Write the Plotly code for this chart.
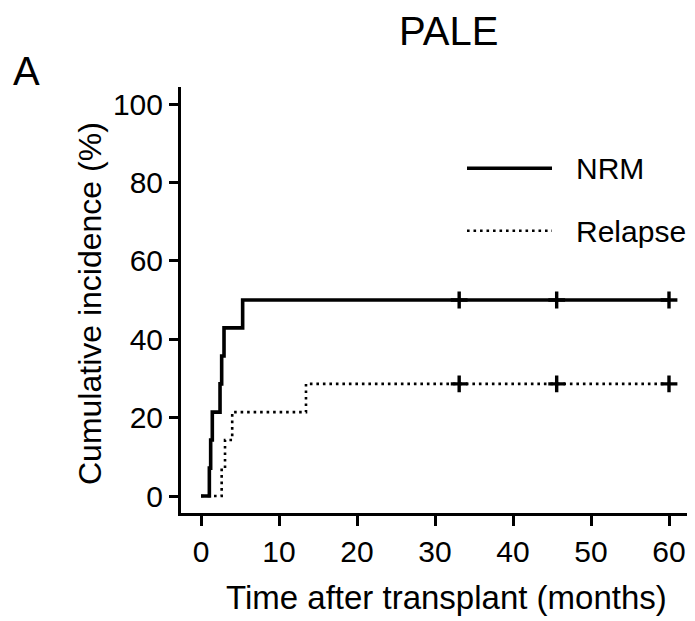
import plotly.graph_objects as go

# ---- data ----
nrm_time = [0, 1.07, 1.24, 1.45, 2.44, 2.65, 2.95, 5.34, 60]
nrm_ci = [0, 7.1, 14.3, 21.4, 28.6, 35.7, 42.9, 50.0, 50.0]
nrm_cens_time = [33.1, 45.6, 60]
nrm_cens_ci = [50.0, 50.0, 50.0]

rel_time = [0, 2.65, 3.08, 4.0, 13.46, 60]
rel_ci = [0, 7.1, 14.3, 21.4, 28.6, 28.6]
rel_cens_time = [33.1, 45.6, 60]
rel_cens_ci = [28.6, 28.6, 28.6]

x_ticks = [0, 10, 20, 30, 40, 50, 60]
y_ticks = [0, 20, 40, 60, 80, 100]

FONT = "Liberation Sans, Arial, sans-serif"
SOLID_W = 3.6
DOT_W = 2.6
DOT_DASH = "2.6px,3.9px"

fig = go.Figure()
fig.add_trace(go.Scatter(x=nrm_time, y=nrm_ci, mode="lines", line_shape="hv",
                         line=dict(color="black", width=SOLID_W), showlegend=False))
fig.add_trace(go.Scatter(x=rel_time, y=rel_ci, mode="lines", line_shape="hv",
                         line=dict(color="black", width=DOT_W, dash=DOT_DASH), showlegend=False))
fig.add_trace(go.Scatter(x=nrm_cens_time, y=nrm_cens_ci, mode="markers",
                         marker=dict(symbol="cross-thin", size=12, line=dict(color="black", width=3.4)),
                         showlegend=False))
fig.add_trace(go.Scatter(x=rel_cens_time, y=rel_cens_ci, mode="markers",
                         marker=dict(symbol="cross-thin", size=12, line=dict(color="black", width=3.4)),
                         showlegend=False))

# page body has an 8px default margin: build the figure 8px smaller and shift targets
OFF = 8
WIN_W, WIN_H = 695, 621
W, H = WIN_W - OFF, WIN_H - OFF
# plot-area edges in window pixels (from the reference)
AX_L, AX_R, AX_T, AX_B = 181, 687, 87, 513
L = AX_L - OFF
R = W - (AX_R - OFF)
T = AX_T - OFF
B = H - (AX_B - OFF)
pw = W - L - R
ph = H - T - B

def px(xpix):
    return (xpix - OFF - L) / pw

def py(ypix):
    return (H - B - (ypix - OFF)) / ph

shapes = [
    dict(type="line", xref="paper", yref="paper", x0=px(467), x1=px(552), y0=py(168.3), y1=py(168.3),
         line=dict(color="black", width=SOLID_W)),
    dict(type="line", xref="paper", yref="paper", x0=px(467), x1=px(552), y0=py(230.7), y1=py(230.7),
         line=dict(color="black", width=DOT_W, dash=DOT_DASH)),
]

annotations = [
    dict(text="NRM", xref="paper", yref="paper", x=px(574), y=py(168.5), xanchor="left", yanchor="middle",
         showarrow=False, font=dict(size=30, color="black", family=FONT)),
    dict(text="Relapse", xref="paper", yref="paper", x=px(574), y=py(231), xanchor="left", yanchor="middle",
         showarrow=False, font=dict(size=30, color="black", family=FONT)),
    dict(text="PALE", xref="paper", yref="paper", x=px(448), y=py(31), xanchor="center", yanchor="middle",
         showarrow=False, font=dict(size=40, color="black", family=FONT)),
    dict(text="A", xref="paper", yref="paper", x=px(26.5), y=py(71), xanchor="center", yanchor="middle",
         showarrow=False, font=dict(size=40, color="black", family=FONT)),
    dict(text="Cumulative incidence (%)", xref="paper", yref="paper", x=px(90), y=py(304),
         xanchor="center", yanchor="middle", textangle=-90,
         showarrow=False, font=dict(size=32, color="black", family=FONT)),
    dict(text="Time after transplant (months)", xref="paper", yref="paper", x=px(446), y=py(597),
         xanchor="center", yanchor="middle",
         showarrow=False, font=dict(size=33, color="black", family=FONT)),
]

x_per = 468 / 60.0
y_per = 392 / 100.0
fig.update_layout(
    width=W, height=H,
    margin=dict(l=L, r=R, t=T, b=B, pad=0),
    paper_bgcolor="white", plot_bgcolor="white",
    font=dict(family=FONT, color="black", size=30),
    shapes=shapes, annotations=annotations,
    showlegend=False,
    xaxis=dict(range=[0 - (201 - AX_L) / x_per, 60 + (AX_R - 669) / x_per],
               tickvals=x_ticks, ticktext=[str(v) for v in x_ticks],
               ticks="outside", ticklen=10, tickwidth=3, tickcolor="black",
               showline=True, linewidth=3, linecolor="black",
               showgrid=False, zeroline=False, tickfont=dict(size=30)),
    yaxis=dict(range=[0 - (AX_B - 496) / y_per, 100 + (104 - AX_T) / y_per],
               tickvals=y_ticks, ticktext=[str(v) for v in y_ticks],
               ticks="outside", ticklen=9, tickwidth=3, tickcolor="black",
               showline=True, linewidth=3, linecolor="black",
               showgrid=False, zeroline=False, tickfont=dict(size=30)),
)

fig.write_html("out.html")
